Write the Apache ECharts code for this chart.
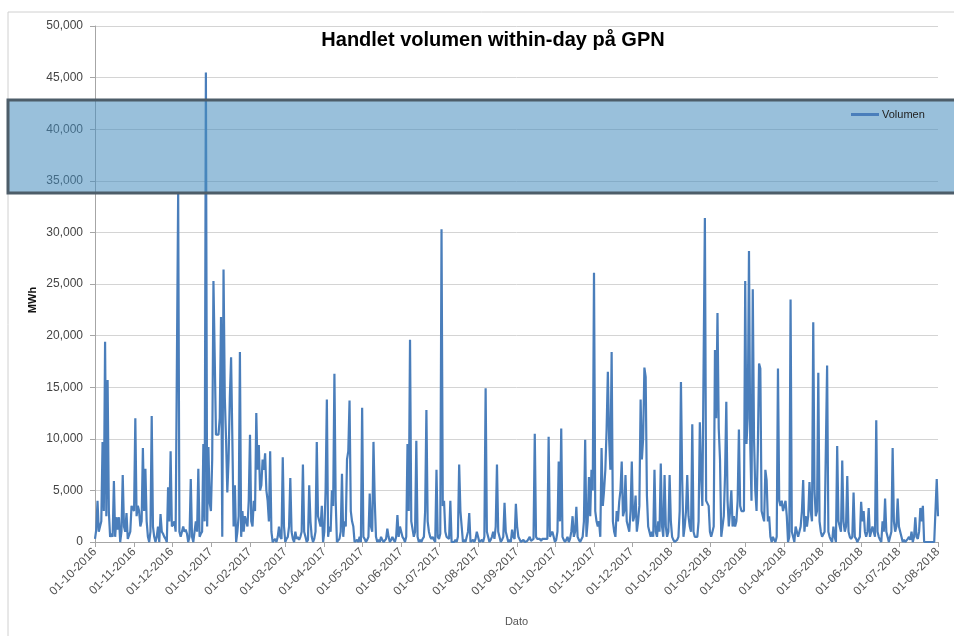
<!DOCTYPE html>
<html>
<head>
<meta charset="utf-8">
<script src="https://cdn.jsdelivr.net/npm/echarts@6/dist/echarts.min.js"></script>
<style>html,body{margin:0;padding:0;background:#fff;}#c{width:954px;height:636px;}</style>
</head>
<body>
<div id="c"></div>
<script>
// ---- data (MWh per day), one array per month ----
const oct2016 = [300,1200,4000,1000,1500,2000,9700,3000,19400,2500,15700,2900,500,800,500,5900,500,2400,1200,2400,0,1000,6500,1500,1000,2800,300,300,1000,3500,3500];
const nov2016 = [3000,12000,2500,3500,3000,1500,2000,9100,3000,7100,2000,500,0,1000,12200,1500,500,0,500,1500,0,2700,1000,800,500,300,0,5300,2000,8800];
const dec2016 = [1500,1500,2000,1000,1000,33800,1000,500,1000,1500,1000,1200,800,0,500,6100,500,0,0,2000,1000,7100,500,800,1000,9500,2000,45500,1500,9200,3800];
const jan2017 = [3000,8000,25300,18000,10400,10400,10400,12000,21800,500,26400,14000,10000,4800,8000,14000,17900,10000,1500,5500,0,1000,2500,18400,500,3000,1000,2500,2000,1500,4000];
const feb2017 = [10400,2000,1500,4000,3000,12500,7000,9400,5000,5500,8000,7000,8600,5000,4000,2000,8800,1000,0,0,300,0,500,1500,500,300,8200,1500];
const mar2017 = [0,300,500,1500,6200,1000,300,0,1000,300,500,200,500,1000,7500,1000,500,0,200,5500,2000,500,0,300,1000,9700,2500,2000,1500,3500,0];
const apr2017 = [1000,5000,13800,500,1500,1000,5000,3500,16300,4000,0,0,300,1000,6600,500,2000,1500,8000,8800,13700,3000,2000,1500,0,0,200,0,500,0];
const may2017 = [13000,500,300,0,200,500,4700,1500,1000,9700,4000,500,0,200,0,500,200,0,0,300,1300,500,0,200,500,200,0,500,2600,500,1500];
const jun2017 = [1500,500,300,0,500,9500,3000,19600,2000,2000,500,1000,9800,500,0,200,0,300,500,3000,12800,2000,1000,500,300,500,200,0,7000,500];
const jul2017 = [300,800,30300,3500,4000,1000,500,500,300,4000,0,0,0,200,0,500,7500,3000,1500,0,200,0,500,1000,2800,0,0,200,0,300,1000];
const aug2017 = [500,0,0,200,0,500,14900,1000,500,0,200,500,1000,300,1500,7500,1000,500,0,200,500,3800,1000,500,0,200,0,1200,500,300,3700];
const sep2017 = [1500,500,500,0,0,200,0,0,100,0,500,100,0,300,10500,500,300,200,300,100,300,200,300,400,300,10200,500,800,1000,500];
const oct2017 = [0,200,1000,7800,2000,11000,500,200,0,200,500,0,300,1000,2500,500,1000,3400,500,200,0,100,500,2000,9900,500,2000,6300,2500,7000,5000];
const nov2017 = [26100,3000,2000,1500,2000,500,9100,3500,5000,7000,10900,16500,10000,7000,18400,2000,1000,500,3000,2000,3900,5000,7800,2500,3000,6500,2000,1500,1000,3000];
const dec2017 = [7800,2000,2500,4500,1000,2000,3500,13800,8000,10000,16900,16000,4500,1500,1000,500,1000,500,7000,1000,500,2000,1000,7600,1500,500,6500,1500,500,1000,6500];
const jan2018 = [2000,500,200,0,0,200,500,3000,15500,6000,500,1500,3000,6500,2500,1500,1000,11400,1000,500,500,500,2000,11600,6500,3500,3500,31400,4000,4000,3500];
const feb2018 = [1000,500,1000,1500,18600,12000,22200,11000,8000,500,1500,2500,6500,13600,4000,1500,3000,5000,1500,2500,1500,2000,4000,10900,3500,3000,3000,3000];
const mar2018 = [25300,9500,12000,28200,9500,4000,24500,10000,5000,3000,9000,17300,16800,3000,2500,2000,7000,6000,2000,2500,500,0,500,200,0,500,16800,4000,3500,4000,3000];
const apr2018 = [3000,4000,2500,0,500,23500,1000,500,0,1500,1500,500,1000,1500,3000,6000,1000,2500,1500,2500,5800,3000,2000,21300,5000,2500,3000,16400,2000,1000];
const may2018 = [500,500,1000,1000,17100,1000,500,200,0,1500,500,0,9300,2000,1500,1000,7900,2000,1000,1500,6400,1000,500,300,500,4800,500,300,0,0,500];
const jun2018 = [3900,2000,3000,1000,500,1000,3300,500,1000,1500,1000,500,11800,1000,500,200,0,2000,1000,4200,1000,500,0,500,1000,9100,2000,1000,1500,4200];
const jul2018 = [1500,1000,500,0,200,0,0,300,500,200,1000,0,500,2400,500,300,1000,3300,2000,3500,0,0,0,0,0,0,0,0,0,0,6100];
const aug2018 = [2500];

const volumen = [].concat(oct2016,nov2016,dec2016,jan2017,feb2017,mar2017,apr2017,may2017,jun2017,jul2017,aug2017,sep2017,
  oct2017,nov2017,dec2017,jan2018,feb2018,mar2018,apr2018,may2018,jun2018,jul2018,aug2018);

const startDate = '2016-10-01';
const seriesName = 'Volumen';
const titleText = 'Handlet volumen within-day på GPN';
const yAxisName = 'MWh';
const xAxisName = 'Dato';

// daily categories DD-MM-YYYY
const categories = [];
(function(){
  const d0 = new Date(startDate + 'T00:00:00Z');
  for (let i = 0; i < volumen.length; i++) {
    const d = new Date(d0.getTime() + i * 86400000);
    const dd = String(d.getUTCDate()).padStart(2,'0');
    const mm = String(d.getUTCMonth()+1).padStart(2,'0');
    categories.push(dd + '-' + mm + '-' + d.getUTCFullYear());
  }
})();

const isMonthStart = (idx, val) => String(val).startsWith('01-');
const fmt = v => String(v).replace(/\B(?=(\d{3})+(?!\d))/g, ',');

const chart = echarts.init(document.getElementById('c'), null, {renderer:'canvas'});
chart.setOption({
  animation: false,
  backgroundColor: '#fff',
  title: {
    text: titleText, left: 488, top: 25, textAlign: 'center',
    textStyle: {fontFamily: 'Liberation Sans', fontWeight: 'bold', fontSize: 20, color: '#000'}
  },
  legend: {
    data: [seriesName], left: 846, top: 104, z: 200,
    itemWidth: 28, itemHeight: 3, icon: 'rect', itemGap: 4,
    textStyle: {fontFamily: 'Liberation Sans', fontSize: 11, color: '#222', padding: [0,0,0,-2]}
  },
  grid: {left: 95, right: 16, top: 26, bottom: 94, containLabel: false},
  xAxis: {
    type: 'category', data: categories, boundaryGap: false,
    name: xAxisName, nameLocation: 'middle', nameGap: 74,
    nameTextStyle: {fontFamily: 'Liberation Sans', fontSize: 11, color: '#555'},
    axisLine: {lineStyle: {color: '#a6a6a6', width: 1}},
    axisTick: {show: true, interval: isMonthStart, length: 5, lineStyle: {color: '#a6a6a6'}},
    axisLabel: {interval: isMonthStart, rotate: 45, margin: 8,
      fontFamily: 'Liberation Sans', fontSize: 12, color: '#555'},
    splitLine: {show: false}
  },
  yAxis: {
    type: 'value', min: 0, max: 50000, interval: 5000,
    axisLine: {show: true, lineStyle: {color: '#a6a6a6'}},
    axisTick: {show: true, length: 5, lineStyle: {color: '#a6a6a6'}},
    axisLabel: {formatter: fmt, margin: 12, fontFamily: 'Liberation Sans', fontSize: 12, color: '#444'},
    splitLine: {lineStyle: {color: '#d4d4d4', width: 1}}
  },
  series: [{
    name: seriesName, type: 'line', data: volumen, showSymbol: false, symbol: 'none',
    lineStyle: {color: '#4a7ebb', width: 2.2}, itemStyle: {color: '#4a7ebb'}, z: 2
  }],
  graphic: [
    {type: 'rect', z: -10, silent: true, shape: {x: 8, y: 12, width: 960, height: 640},
      style: {fill: 'none', stroke: '#d0d0d0', lineWidth: 1}},
    {type: 'rect', z: 100, silent: true, shape: {x: 8, y: 100, width: 960, height: 93},
      style: {fill: 'rgba(70,140,190,0.55)', stroke: '#4d5d69', lineWidth: 3}},
    {type: 'text', z: 100, silent: true, x: 33, y: 300, rotation: Math.PI/2,
      style: {text: yAxisName, fontFamily: 'Liberation Sans', fontWeight: 'bold', fontSize: 11, fill: '#111',
        textAlign: 'center', textVerticalAlign: 'middle'}}
  ]
});
</script>
</body>
</html>
